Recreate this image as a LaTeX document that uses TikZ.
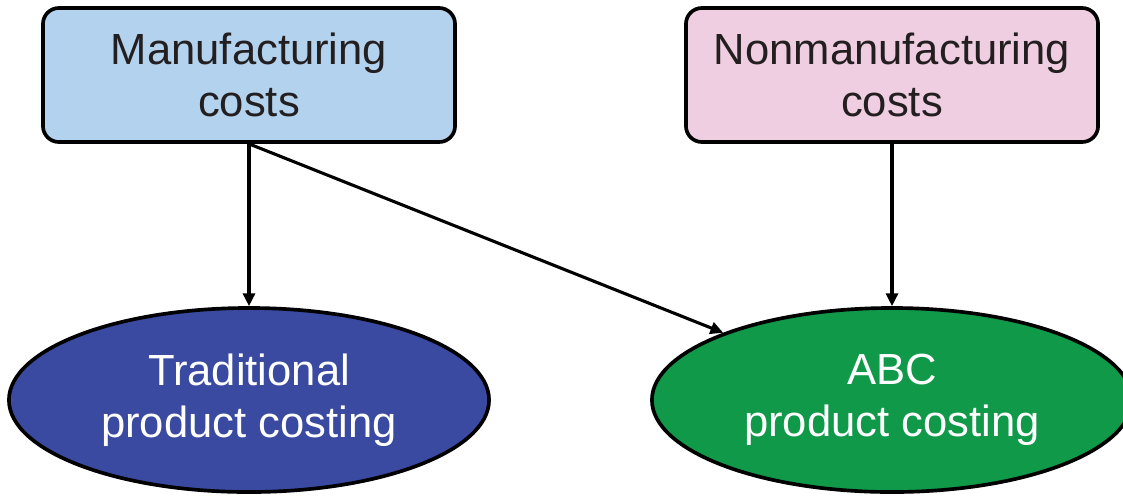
\documentclass[tikz,border=0pt]{standalone}
\usepackage{fontspec}
\setmainfont{Liberation Sans}
\usepackage{xcolor}
\usetikzlibrary{arrows.meta,positioning,shapes.geometric}
\definecolor{mfgblue}{RGB}{179,210,238}
\definecolor{nonpink}{RGB}{240,206,226}
\definecolor{tradblue}{RGB}{57,74,160}
\definecolor{abcgreen}{RGB}{16,153,72}
\definecolor{inkgray}{RGB}{35,31,32}

\begin{document}
\begin{tikzpicture}[
    x=0.025cm, y=-0.025cm,
    costbox/.style={draw, line width=2.6pt, rounded corners=0.4cm, minimum width=10.3cm, minimum height=3.35cm, align=center, text=inkgray, font=\fontsize{31}{37}\selectfont},
    costing/.style={draw, ellipse, line width=2.6pt, inner sep=0pt, minimum width=12cm, minimum height=4.6cm, align=center, text=white, font=\fontsize{31}{37}\selectfont},
    arr/.style={-{Triangle[length=0.32cm, width=0.3cm]}, line width=2.2pt}
]
  \useasboundingbox (0,0) rectangle (1123,495);

  % cost boxes
  \node[costbox, fill=mfgblue] (mfg) at (249,75) {Manufacturing\\costs};
  \node[costbox, fill=nonpink] (nonmfg) at (892,75) {Nonmanufacturing\\costs};

  % costing methods
  \node[costing, fill=tradblue] (trad) at (249,400) {Traditional\\product costing};
  \node[costing, fill=abcgreen] (abc) at (892,400) {ABC\\product costing};

  % Arrows
  \draw[arr] (mfg.south) -- (trad.north);
  \draw[arr] (mfg.south) -- (abc);
  \draw[arr] (nonmfg.south) -- (abc.north);
\end{tikzpicture}
\end{document}
